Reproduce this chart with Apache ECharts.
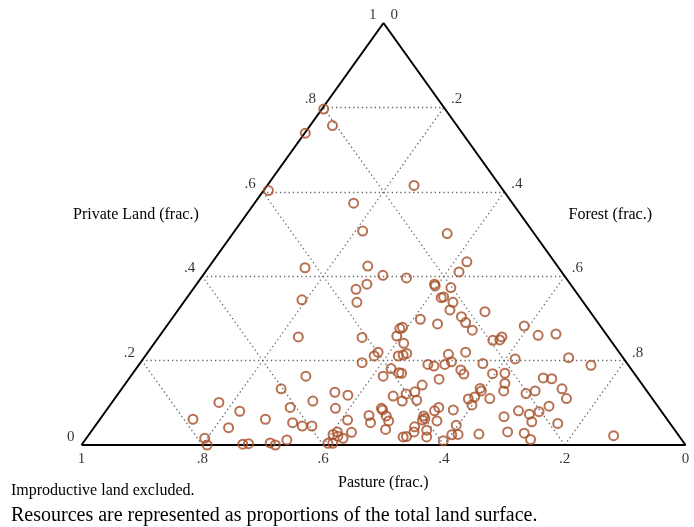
<!DOCTYPE html>
<html><head><meta charset="utf-8">
<script src="https://cdn.jsdelivr.net/npm/echarts@6/dist/echarts.min.js"></script>
<style>html,body{margin:0;padding:0;background:#fff}#c{width:694px;height:527px}</style>
</head><body><div id="c"></div>
<script>
// Ternary data: private land fraction and forest fraction (pasture = 1 - private - forest)
const privateLand = [
.796,.739,.757,.603,.615,.573,.507,.501,.420,.424,.402,.396,.434,.410,.381,.377,.373,.369,.381,.344,
.338,.349,.351,.338,.256,.255,.220,.211,.195,.163,.163,.181,.171,.276,.279,.258,.241,.211,.213,.217,
.170,.320,.304,.290,.272,.316,.298,.287,.248,.249,.256,.220,.215,.197,.191,.187,.191,.178,.168,.193,
.169,.170,.156,.282,.260,.263,.204,.207,.189,.159,.157,.133,.089,.053,.101,.080,.061,.061,.041,.016,
.000,.002,.003,.005,.000,.012,.125,.118,.104,.087,.116,.104,.087,.083,.069,.057,.070,.053,.037,.059,
.045,.045,.031,.025,.021,.016,.030,.004,.004,.019,.142,.126,.121,.106,.109,.114,.134,.128,.095,.110,
.146,.128,.083,.081,.089,.069,.063,.059,.057,.047,.067,.043,.031,.020,.035,.019,.024,.025,.010,.026,
.031,.133,.110,.122,.128,.081,.073,.079,.055,.092,.051,.028,.013,.022
];
const forest = [
.003,.001,.037,.008,.243,.164,.212,.355,.160,.262,.298,.340,.421,.420,.394,.397,.425,.270,.282,.193,
.287,.421,.424,.446,.231,.337,.381,.379,.367,.290,.418,.422,.440,.389,.392,.393,.413,.419,.426,.430,
.445,.450,.477,.491,.511,.510,.412,.446,.557,.568,.568,.526,.500,.514,.478,.490,.506,.539,.549,.568,
.596,.616,.514,.592,.626,.654,.616,.703,.749,.685,.700,.264,.301,.323,.177,.222,.154,.274,.223,.196,
.208,.266,.275,.310,.321,.334,.357,.382,.331,.377,.458,.479,.453,.457,.470,.480,.441,.452,.485,.411,
.343,.359,.408,.404,.414,.425,.432,.406,.414,.523,.493,.489,.477,.502,.586,.594,.593,.598,.599,.621,
.628,.635,.574,.544,.547,.532,.537,.535,.560,.597,.666,.530,.535,.528,.554,.562,.601,.611,.594,.645,
.690,.729,.748,.675,.687,.683,.705,.718,.718,.728,.763,.719,.737,.870
];
const tickValues = [0, 0.2, 0.4, 0.6, 0.8, 1];
const tickLabels = ['0', '.2', '.4', '.6', '.8', '1'];
const gridValues = [0.2, 0.4, 0.6, 0.8];
const axisTitles = ['Private Land (frac.)', 'Forest (frac.)', 'Pasture (frac.)'];
const notes = ['Improductive land excluded.', 'Resources are represented as proportions of the total land surface.'];

// ternary (private l, forest f) -> cartesian (x, y)
function tern(l, f) { return [f + l / 2, l]; }

const FONT = 'Liberation Serif';
const points = privateLand.map((l, i) => tern(l, forest[i]));

const gridSegs = [];
gridValues.forEach(v => {
  gridSegs.push({coords: [tern(v, 0), tern(v, 1 - v)]});          // private land = v
  gridSegs.push({coords: [tern(0, v), tern(1 - v, v)]});          // forest = v
  gridSegs.push({coords: [tern(0, 1 - v), tern(1 - v, 0)]});      // pasture = v
});
const frame = [tern(0, 0), tern(0, 1), tern(1, 0), tern(0, 0)];

const leftTicks = tickValues.map((v, i) => ({value: tern(v, 0), name: tickLabels[i]}));
const rightTicks = tickValues.slice(0, 5).map((v, i) => ({value: tern(1 - v, v), name: tickLabels[i]}));
const bottomTicks = tickValues.map((v, i) => ({value: tern(0, 1 - v), name: tickLabels[i]}));

const tickLabelStyle = {fontFamily: FONT, fontSize: 15, color: '#000'};
function tickSeries(data, position, distance, offset) {
  return {
    type: 'scatter', data: data, symbolSize: 0, silent: true, z: 5,
    label: Object.assign({show: true, position: position, distance: distance, offset: offset,
      formatter: p => p.name}, tickLabelStyle)
  };
}

const chart = echarts.init(document.getElementById('c'), null, {renderer: 'canvas'});
chart.setOption({
  animation: false,
  backgroundColor: '#fff',
  grid: {left: 81.5, right: 8.5, top: 23, bottom: 82},
  xAxis: {type: 'value', min: 0, max: 1, show: false},
  yAxis: {type: 'value', min: 0, max: 1, show: false},
  series: [
    {type: 'lines', coordinateSystem: 'cartesian2d', data: gridSegs, silent: true, z: 1,
      lineStyle: {color: '#666', width: 1.3, type: [1.3, 3], opacity: 1}},
    {type: 'line', data: frame, symbol: 'none', silent: true, z: 3,
      lineStyle: {color: '#000', width: 2}},
    {type: 'scatter', data: points, symbol: 'circle', symbolSize: 9, z: 4,
      itemStyle: {color: 'rgba(0,0,0,0)', borderColor: '#a64f28', borderWidth: 2}},
    tickSeries(leftTicks, 'left', 7, [0, -8]),
    tickSeries(rightTicks, 'right', 7, [0, -8]),
    tickSeries(bottomTicks, 'bottom', 7, [0, 0])
  ],
  graphic: [
    {type: 'text', left: 73, top: 207, style: {text: axisTitles[0], font: '16px "Liberation Serif"', fill: '#000'}},
    {type: 'text', right: 42, top: 207, style: {text: axisTitles[1], font: '16px "Liberation Serif"', fill: '#000'}},
    {type: 'text', left: 338, top: 475, style: {text: axisTitles[2], font: '16px "Liberation Serif"', fill: '#000'}},
    {type: 'text', left: 11, top: 483, style: {text: notes[0], font: '16px "Liberation Serif"', fill: '#000'}},
    {type: 'text', left: 11, top: 506, style: {text: notes[1], font: '20px "Liberation Serif"', fill: '#000'}}
  ]
});
</script></body></html>
